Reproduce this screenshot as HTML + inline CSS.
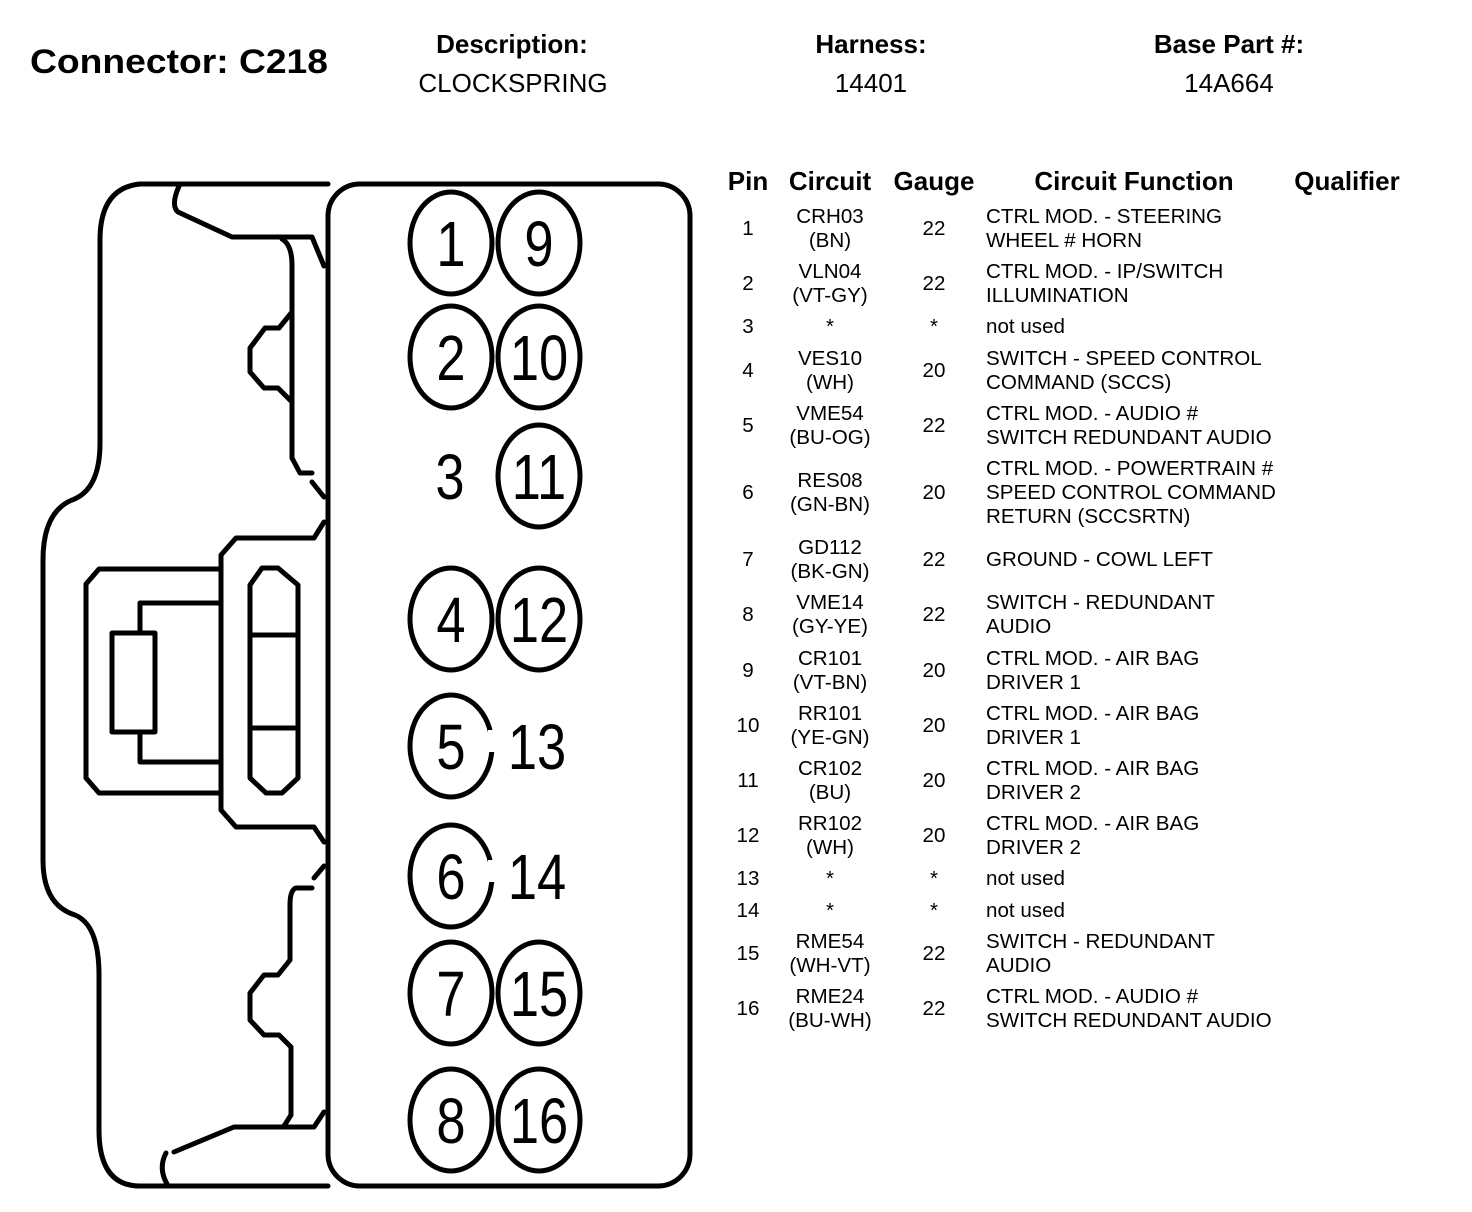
<!DOCTYPE html>
<html><head><meta charset="utf-8"><style>
html,body{margin:0;padding:0;background:#fff;}
svg{display:block;}
.t{font-family:"Liberation Sans",sans-serif;font-size:20.6px;fill:#000;}
.h{font-family:"Liberation Sans",sans-serif;font-weight:bold;font-size:26px;fill:#000;}
.n{font-family:"Liberation Sans",sans-serif;font-size:64px;fill:#000;}
</style></head><body>
<svg width="1472" height="1212" viewBox="0 0 1472 1212" xmlns="http://www.w3.org/2000/svg">
<!-- header -->
<text x="30" y="73" font-family="Liberation Sans,sans-serif" font-weight="bold" font-size="34" textLength="298" lengthAdjust="spacingAndGlyphs">Connector: C218</text>
<text class="h" x="512" y="53" text-anchor="middle">Description:</text>
<text x="513" y="92" text-anchor="middle" font-family="Liberation Sans,sans-serif" font-size="26">CLOCKSPRING</text>
<text class="h" x="871" y="53" text-anchor="middle">Harness:</text>
<text x="871" y="92" text-anchor="middle" font-family="Liberation Sans,sans-serif" font-size="26">14401</text>
<text class="h" x="1229" y="53" text-anchor="middle">Base Part #:</text>
<text x="1229" y="92" text-anchor="middle" font-family="Liberation Sans,sans-serif" font-size="26">14A664</text>

<!-- connector drawing -->
<g fill="none" stroke="#000" stroke-width="5" stroke-linejoin="round" stroke-linecap="round">
<rect x="328" y="184" width="362" height="1002" rx="32"/>
<path d="M328 184 H140 Q100 188 100 240 V443 Q100 490 72 500 Q43 512 43 560 V860 Q43 905 75 915 Q99 925 99 975 V1130 Q99 1186 140 1186 H328"/>
<path d="M180 184 Q170 205 178 212 L232 237 H312 L324 266"/>
<path d="M282 239 Q292 245 292 265 V458 L300 473 H312"/>
<path d="M292 312 L279 328 H265 L250 348 V372 L264 388 H278 L292 402 V458"/>
<path d="M312 482 L324 497"/>
<path d="M324 522 L314 538 H236 L221 555 V810 L236 827 H314 L324 842"/>
<path d="M324 866 L314 878"/>
<path d="M312 888 H296 Q290 890 290 905 V960 L278 975 H264 L250 993 V1020 L264 1035 H279 L291 1047 V1115 L284 1126"/>
<path d="M174 1152 L234 1127 H314 L324 1112"/>
<path d="M166 1153 Q158 1168 167 1184"/>
<path d="M221 569 H99 L86 584 V778 L99 793 H221"/>
<path d="M221 603 H140 V633"/>
<rect x="112" y="633" width="43" height="99"/>
<path d="M140 732 V762 H221"/>
<path d="M262 568 H278 L298 585 V778 L282 793 H266 L250 778 V585 Z"/>
<path d="M250 635 H298 M250 728 H298"/>
</g>
<g fill="none" stroke="#000" stroke-width="5">
<ellipse cx="451" cy="243" rx="41" ry="51"/><ellipse cx="539" cy="243" rx="41" ry="51"/>
<ellipse cx="451" cy="357" rx="41" ry="51"/><ellipse cx="539" cy="357" rx="41" ry="51"/>
<ellipse cx="539" cy="476" rx="41" ry="51"/>
<ellipse cx="451" cy="619" rx="41" ry="51"/><ellipse cx="539" cy="619" rx="41" ry="51"/>
<ellipse cx="451" cy="746" rx="41" ry="51"/>
<ellipse cx="451" cy="876" rx="41" ry="51"/>
<ellipse cx="451" cy="993" rx="41" ry="51"/><ellipse cx="539" cy="993" rx="41" ry="51"/>
<ellipse cx="451" cy="1120" rx="41" ry="51"/><ellipse cx="539" cy="1120" rx="41" ry="51"/>
</g>
<rect x="488" y="730" width="10" height="22" fill="#fff"/>
<rect x="488" y="860" width="10" height="22" fill="#fff"/>
<g class="n" text-anchor="middle">
<text transform="translate(451,266) scale(0.82,1)">1</text><text transform="translate(539,266) scale(0.82,1)">9</text>
<text transform="translate(451,380) scale(0.82,1)">2</text><text transform="translate(539,380) scale(0.82,1)">10</text>
<text transform="translate(450,499) scale(0.82,1)">3</text><text transform="translate(539,499) scale(0.82,1)">11</text>
<text transform="translate(451,642) scale(0.82,1)">4</text><text transform="translate(539,642) scale(0.82,1)">12</text>
<text transform="translate(451,769) scale(0.82,1)">5</text><text transform="translate(537,769) scale(0.82,1)">13</text>
<text transform="translate(451,899) scale(0.82,1)">6</text><text transform="translate(537,899) scale(0.82,1)">14</text>
<text transform="translate(451,1016) scale(0.82,1)">7</text><text transform="translate(539,1016) scale(0.82,1)">15</text>
<text transform="translate(451,1143) scale(0.82,1)">8</text><text transform="translate(539,1143) scale(0.82,1)">16</text>
</g>

<text class="h" x="748" y="190" text-anchor="middle">Pin</text>
<text class="h" x="830" y="190" text-anchor="middle">Circuit</text>
<text class="h" x="934" y="190" text-anchor="middle">Gauge</text>
<text class="h" x="1134" y="190" text-anchor="middle">Circuit Function</text>
<text class="h" x="1347" y="190" text-anchor="middle">Qualifier</text>

<g class="t">
<g text-anchor="middle">
<text x="748" y="235">1</text><text x="830" y="223">CRH03</text><text x="830" y="247">(BN)</text><text x="934" y="235">22</text>
<text x="748" y="290">2</text><text x="830" y="278">VLN04</text><text x="830" y="302">(VT-GY)</text><text x="934" y="290">22</text>
<text x="748" y="333">3</text><text x="830" y="333">*</text><text x="934" y="333">*</text>
<text x="748" y="377">4</text><text x="830" y="365">VES10</text><text x="830" y="389">(WH)</text><text x="934" y="377">20</text>
<text x="748" y="432">5</text><text x="830" y="420">VME54</text><text x="830" y="444">(BU-OG)</text><text x="934" y="432">22</text>
<text x="748" y="499">6</text><text x="830" y="487">RES08</text><text x="830" y="511">(GN-BN)</text><text x="934" y="499">20</text>
<text x="748" y="566">7</text><text x="830" y="554">GD112</text><text x="830" y="578">(BK-GN)</text><text x="934" y="566">22</text>
<text x="748" y="621">8</text><text x="830" y="609">VME14</text><text x="830" y="633">(GY-YE)</text><text x="934" y="621">22</text>
<text x="748" y="677">9</text><text x="830" y="665">CR101</text><text x="830" y="689">(VT-BN)</text><text x="934" y="677">20</text>
<text x="748" y="732">10</text><text x="830" y="720">RR101</text><text x="830" y="744">(YE-GN)</text><text x="934" y="732">20</text>
<text x="748" y="787">11</text><text x="830" y="775">CR102</text><text x="830" y="799">(BU)</text><text x="934" y="787">20</text>
<text x="748" y="842">12</text><text x="830" y="830">RR102</text><text x="830" y="854">(WH)</text><text x="934" y="842">20</text>
<text x="748" y="885">13</text><text x="830" y="885">*</text><text x="934" y="885">*</text>
<text x="748" y="917">14</text><text x="830" y="917">*</text><text x="934" y="917">*</text>
<text x="748" y="960">15</text><text x="830" y="948">RME54</text><text x="830" y="972">(WH-VT)</text><text x="934" y="960">22</text>
<text x="748" y="1015">16</text><text x="830" y="1003">RME24</text><text x="830" y="1027">(BU-WH)</text><text x="934" y="1015">22</text>
</g>
<text x="986" y="223">CTRL MOD. - STEERING</text><text x="986" y="247">WHEEL # HORN</text>
<text x="986" y="278">CTRL MOD. - IP/SWITCH</text><text x="986" y="302">ILLUMINATION</text>
<text x="986" y="333">not used</text>
<text x="986" y="365">SWITCH - SPEED CONTROL</text><text x="986" y="389">COMMAND (SCCS)</text>
<text x="986" y="420">CTRL MOD. - AUDIO #</text><text x="986" y="444">SWITCH REDUNDANT AUDIO</text>
<text x="986" y="475">CTRL MOD. - POWERTRAIN #</text><text x="986" y="499">SPEED CONTROL COMMAND</text><text x="986" y="523">RETURN (SCCSRTN)</text>
<text x="986" y="566">GROUND - COWL LEFT</text>
<text x="986" y="609">SWITCH - REDUNDANT</text><text x="986" y="633">AUDIO</text>
<text x="986" y="665">CTRL MOD. - AIR BAG</text><text x="986" y="689">DRIVER 1</text>
<text x="986" y="720">CTRL MOD. - AIR BAG</text><text x="986" y="744">DRIVER 1</text>
<text x="986" y="775">CTRL MOD. - AIR BAG</text><text x="986" y="799">DRIVER 2</text>
<text x="986" y="830">CTRL MOD. - AIR BAG</text><text x="986" y="854">DRIVER 2</text>
<text x="986" y="885">not used</text>
<text x="986" y="917">not used</text>
<text x="986" y="948">SWITCH - REDUNDANT</text><text x="986" y="972">AUDIO</text>
<text x="986" y="1003">CTRL MOD. - AUDIO #</text><text x="986" y="1027">SWITCH REDUNDANT AUDIO</text>
</g>
</svg>
</body></html>
